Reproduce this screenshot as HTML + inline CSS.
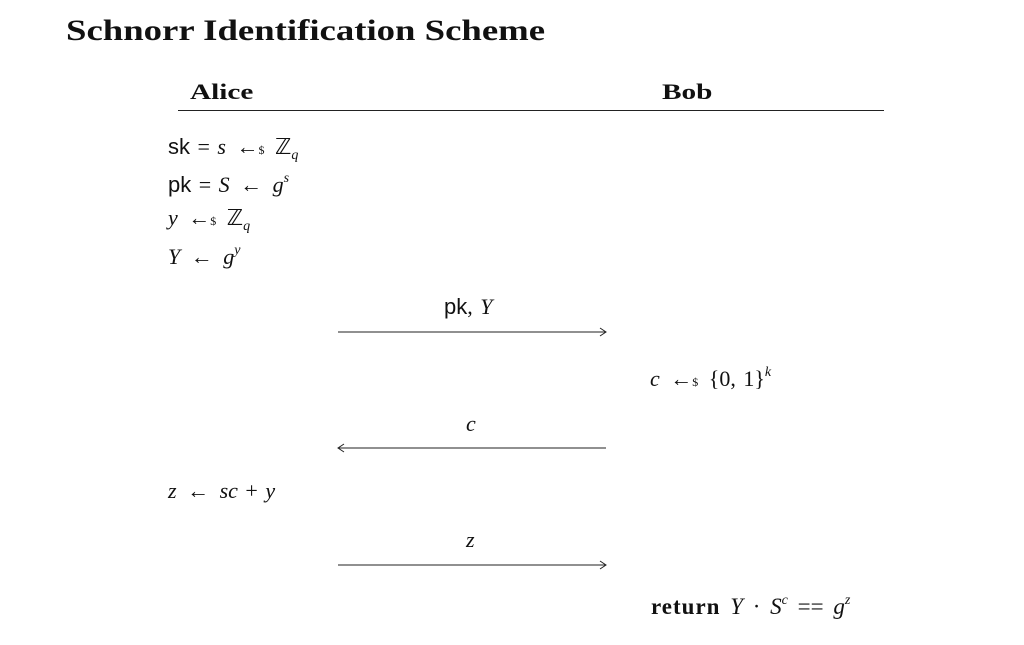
<!DOCTYPE html>
<html><head><meta charset="utf-8"><style>
body{margin:0;width:1024px;height:645px;background:#fff;position:relative;overflow:hidden;font-family:"Liberation Serif",serif;color:#111}
.a{position:absolute;white-space:nowrap;line-height:1}
.m{font-size:22px;word-spacing:2px}
i{font-style:italic}
.sf{font-family:"Liberation Sans",sans-serif;font-style:normal}
sup{font-size:14px;vertical-align:10px;font-style:italic}
sub{font-size:14px;vertical-align:-5px;font-style:italic}
.dl{font-size:12px}
.ar{display:inline-block;margin:0 3px}
b{font-weight:bold;letter-spacing:1px}
.sx{transform-origin:0 0}
</style></head><body>
<div class="a sx" style="left:66px;top:16px;font-size:30px;font-weight:bold;transform:scaleX(1.225)">Schnorr Identification Scheme</div>
<div class="a sx" style="left:190px;top:81px;font-size:22px;font-weight:bold;transform:scaleX(1.33)">Alice</div>
<div class="a sx" style="left:662px;top:81px;font-size:22px;font-weight:bold;transform:scaleX(1.33)">Bob</div>
<div class="a" style="left:178px;top:110px;width:706px;height:1px;background:#222"></div>
<div class="a m" style="left:168px;top:136px"><span class="sf">sk</span> = <i>s</i> <span class="ar">←<span class="dl">$</span></span> ℤ<sub>q</sub></div>
<div class="a m" style="left:168px;top:172px"><span class="sf">pk</span> = <i>S</i> <span class="ar">←</span> <i>g</i><sup>s</sup></div>
<div class="a m" style="left:168px;top:207px"><i>y</i> <span class="ar">←<span class="dl">$</span></span> ℤ<sub>q</sub></div>
<div class="a m" style="left:168px;top:244px"><i>Y</i> <span class="ar">←</span> <i>g</i><sup>y</sup></div>
<div class="a m" style="left:444px;top:296px"><span class="sf">pk</span>, <i>Y</i></div>
<svg class="a" style="left:0;top:0" width="1024" height="645">
<g stroke="#222" stroke-width="1" fill="none">
<line x1="338" y1="332" x2="606" y2="332"/><path d="M600 328 L606 332 L600 336"/>
<line x1="338" y1="448" x2="606" y2="448"/><path d="M344 444 L338 448 L344 452"/>
<line x1="338" y1="565" x2="606" y2="565"/><path d="M600 561 L606 565 L600 569"/>
</g></svg>
<div class="a m" style="left:650px;top:366px"><i>c</i> <span class="ar">←<span class="dl">$</span></span> {0, 1}<sup>k</sup></div>
<div class="a m" style="left:466px;top:413px"><i>c</i></div>
<div class="a m" style="left:168px;top:480px"><i>z</i> <span class="ar">←</span> <i>sc</i> + <i>y</i></div>
<div class="a m" style="left:466px;top:529px"><i>z</i></div>
<div class="a m" style="left:651px;top:594px;font-size:23px;word-spacing:4px"><b>return</b> <i>Y</i> · <i>S</i><sup>c</sup> == <i>g</i><sup>z</sup></div>
</body></html>
